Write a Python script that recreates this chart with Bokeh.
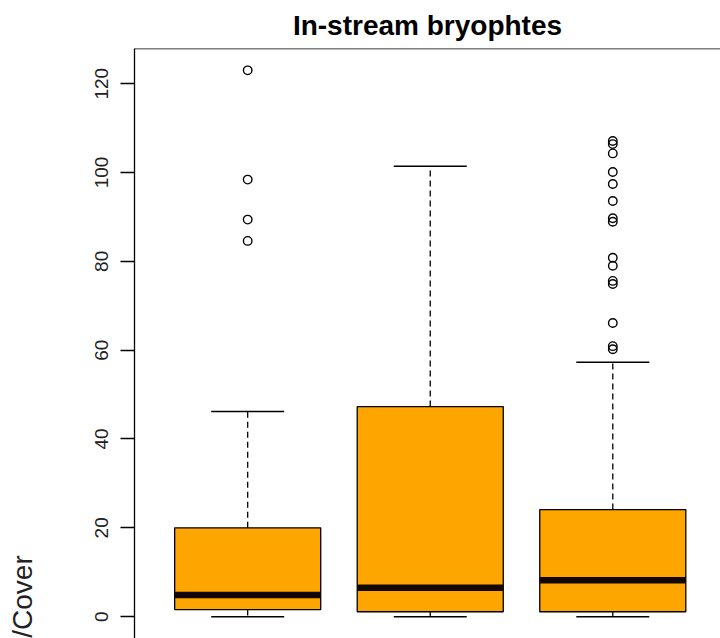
import math
from bokeh.plotting import figure
from bokeh.layouts import row
from bokeh.models import Range1d, Span, FixedTicker
from bokeh.core.properties import value
from bokeh.embed import file_html
from bokeh.resources import INLINE

# Box statistics for the three groups
groups = [1, 2, 3]
lower_whisker = [0.0, 0.0, 0.0]
q1 = [1.6, 1.1, 1.1]
median = [4.9, 6.5, 8.2]
q3 = [20.0, 47.3, 24.1]
upper_whisker = [46.2, 101.4, 57.3]
outliers_1 = [123.0, 98.4, 89.4, 84.6]
outliers_2 = []
outliers_3 = [107.1, 106.4, 104.3, 100.1, 97.4, 93.6, 89.7, 88.9,
              80.8, 79.0, 75.6, 74.9, 66.1, 60.9, 60.2]
y_ticks = [0, 20, 40, 60, 80, 100, 120]

title_text = "In-stream bryophtes"
y_label_text = "Density/Cover"

FONT = "Liberation Sans"
BOX_FILL = "#FFA500"
BOX_WIDTH = 0.8
HEIGHT = 638
LABEL_W = 60

# value range with a 4% pad on both sides
all_vals = lower_whisker + upper_whisker + outliers_1 + outliers_2 + outliers_3
ymin, ymax = min(all_vals), max(all_vals)
pad = 0.04 * (ymax - ymin)
n = len(groups)

p = figure(width=720 - LABEL_W, height=HEIGHT, output_backend="svg",
           toolbar_location=None,
           x_range=Range1d(0.5 - 0.04 * n, 3.59),
           y_range=Range1d(ymin - pad, ymax + pad),
           x_axis_location=None,
           min_border_left=134 - LABEL_W, min_border_top=48,
           min_border_right=0, min_border_bottom=0)
p.outline_line_color = None
p.grid.visible = False
p.background_fill_color = "white"
p.border_fill_color = "white"

p.title.text = title_text
p.title.align = "center"
p.title.text_font = FONT
p.title.text_font_size = "28px"
p.title.text_font_style = "bold"
p.title.text_color = "black"
p.title.standoff = 15

ax = p.yaxis[0]
ax.ticker = FixedTicker(ticks=y_ticks)
ax.major_label_orientation = "vertical"
ax.major_label_text_font = FONT
ax.major_label_text_font_size = "19px"
ax.major_label_text_color = "#222222"
ax.major_label_standoff = 12
ax.major_tick_out = 14
ax.major_tick_in = 0
ax.minor_tick_line_color = None
ax.axis_line_width = 1.3
ax.major_tick_line_width = 1.3
ax.axis_line_color = "black"
ax.major_tick_line_color = "black"

# top edge of the plotting region
p.add_layout(Span(location=ymax + pad, dimension="width",
                  line_color="black", line_width=1.5))

half = BOX_WIDTH / 2
cap = BOX_WIDTH / 4

# dashed whiskers
p.segment(x0=groups, x1=groups, y0=q3, y1=upper_whisker,
          line_color="black", line_width=1.3, line_dash="6 4")
p.segment(x0=groups, x1=groups, y0=q1, y1=lower_whisker,
          line_color="black", line_width=1.3, line_dash="6 4")
# whisker caps
p.segment(x0=[g - cap for g in groups], x1=[g + cap for g in groups],
          y0=upper_whisker, y1=upper_whisker, line_color="black", line_width=1.5)
p.segment(x0=[g - cap for g in groups], x1=[g + cap for g in groups],
          y0=lower_whisker, y1=lower_whisker, line_color="black", line_width=1.5)

# boxes
p.vbar(x=groups, width=BOX_WIDTH, bottom=q1, top=q3,
       fill_color=BOX_FILL, line_color="black", line_width=1.3)
# medians
p.segment(x0=[g - half for g in groups], x1=[g + half for g in groups],
          y0=median, y1=median, line_color="#120600", line_width=6.5,
          line_cap="butt")

# outliers
for g, vals in zip(groups, [outliers_1, outliers_2, outliers_3]):
    if vals:
        p.scatter(x=[g] * len(vals), y=vals, marker="circle", size=8.5,
                  fill_color=None, line_color="black", line_width=1.4)

# narrow strip on the left carrying the rotated y-axis title
# (pixel-based ranges; the title runs past the lower edge)
lab = figure(width=LABEL_W, height=HEIGHT, output_backend="svg",
             toolbar_location=None,
             x_range=Range1d(0, LABEL_W), y_range=Range1d(0, HEIGHT),
             x_axis_location=None, y_axis_location=None, min_border=0)
lab.outline_line_color = None
lab.grid.visible = False
lab.background_fill_color = "white"
lab.border_fill_color = "white"
lab.text(x=[22], y=[90], text=[y_label_text], angle=math.pi / 2,
         text_align="right", text_baseline="alphabetic",
         text_font=value(FONT), text_font_size=value("28px"),
         text_color="#222222")

layout = row(lab, p, spacing=0)
open("out.html", "w").write(file_html(layout, INLINE))
